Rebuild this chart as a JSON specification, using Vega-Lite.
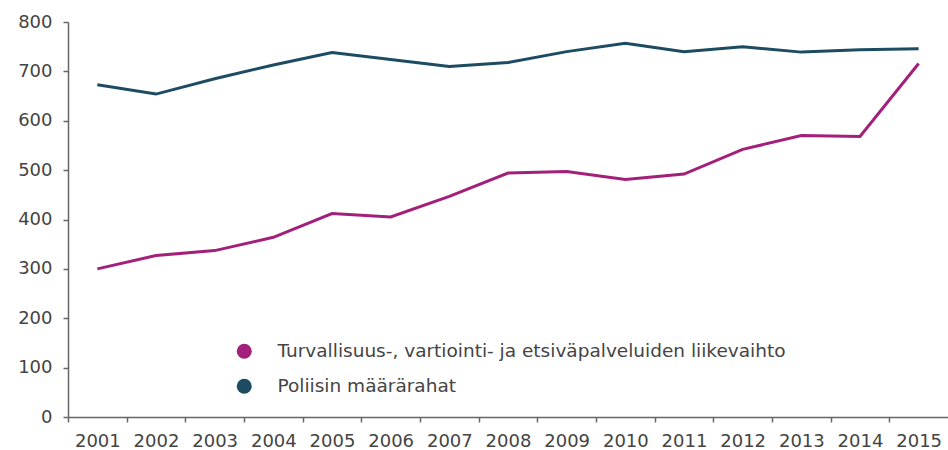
{
  "$schema": "https://vega.github.io/schema/vega-lite/v6.json",
  "autosize": {"type": "none"},
  "padding": {"left": 68, "top": 22, "right": 0, "bottom": 33},
  "width": 880,
  "height": 395,
  "background": "white",
  "data": {
    "values": [
      {"year": "2001", "series": "Turvallisuus-, vartiointi- ja etsiväpalveluiden liikevaihto", "value": 300},
      {"year": "2002", "series": "Turvallisuus-, vartiointi- ja etsiväpalveluiden liikevaihto", "value": 327},
      {"year": "2003", "series": "Turvallisuus-, vartiointi- ja etsiväpalveluiden liikevaihto", "value": 337},
      {"year": "2004", "series": "Turvallisuus-, vartiointi- ja etsiväpalveluiden liikevaihto", "value": 364},
      {"year": "2005", "series": "Turvallisuus-, vartiointi- ja etsiväpalveluiden liikevaihto", "value": 412},
      {"year": "2006", "series": "Turvallisuus-, vartiointi- ja etsiväpalveluiden liikevaihto", "value": 405},
      {"year": "2007", "series": "Turvallisuus-, vartiointi- ja etsiväpalveluiden liikevaihto", "value": 447},
      {"year": "2008", "series": "Turvallisuus-, vartiointi- ja etsiväpalveluiden liikevaihto", "value": 494},
      {"year": "2009", "series": "Turvallisuus-, vartiointi- ja etsiväpalveluiden liikevaihto", "value": 497},
      {"year": "2010", "series": "Turvallisuus-, vartiointi- ja etsiväpalveluiden liikevaihto", "value": 481},
      {"year": "2011", "series": "Turvallisuus-, vartiointi- ja etsiväpalveluiden liikevaihto", "value": 492},
      {"year": "2012", "series": "Turvallisuus-, vartiointi- ja etsiväpalveluiden liikevaihto", "value": 542},
      {"year": "2013", "series": "Turvallisuus-, vartiointi- ja etsiväpalveluiden liikevaihto", "value": 570},
      {"year": "2014", "series": "Turvallisuus-, vartiointi- ja etsiväpalveluiden liikevaihto", "value": 568},
      {"year": "2015", "series": "Turvallisuus-, vartiointi- ja etsiväpalveluiden liikevaihto", "value": 716},
      {"year": "2001", "series": "Poliisin määrärahat", "value": 673},
      {"year": "2002", "series": "Poliisin määrärahat", "value": 654},
      {"year": "2003", "series": "Poliisin määrärahat", "value": 685},
      {"year": "2004", "series": "Poliisin määrärahat", "value": 713},
      {"year": "2005", "series": "Poliisin määrärahat", "value": 738},
      {"year": "2006", "series": "Poliisin määrärahat", "value": 724},
      {"year": "2007", "series": "Poliisin määrärahat", "value": 710},
      {"year": "2008", "series": "Poliisin määrärahat", "value": 718},
      {"year": "2009", "series": "Poliisin määrärahat", "value": 740},
      {"year": "2010", "series": "Poliisin määrärahat", "value": 757},
      {"year": "2011", "series": "Poliisin määrärahat", "value": 740},
      {"year": "2012", "series": "Poliisin määrärahat", "value": 750},
      {"year": "2013", "series": "Poliisin määrärahat", "value": 739},
      {"year": "2014", "series": "Poliisin määrärahat", "value": 744},
      {"year": "2015", "series": "Poliisin määrärahat", "value": 746}
    ]
  },
  "mark": {"type": "line", "strokeWidth": 3},
  "encoding": {
    "x": {
      "field": "year",
      "type": "ordinal",
      "scale": {"type": "band", "paddingInner": 0, "paddingOuter": 0},
      "axis": {
        "title": null,
        "labelAngle": 0,
        "tickOffset": -29.33,
        "labelOffset": 29.33,
        "tickSize": 5,
        "labelPadding": 10
      }
    },
    "y": {
      "field": "value",
      "type": "quantitative",
      "scale": {"domain": [0, 800], "nice": false},
      "axis": {
        "title": null,
        "values": [0, 100, 200, 300, 400, 500, 600, 700, 800],
        "tickSize": 5,
        "labelPadding": 11,
        "grid": false
      }
    },
    "color": {
      "field": "series",
      "type": "nominal",
      "scale": {
        "domain": ["Turvallisuus-, vartiointi- ja etsiväpalveluiden liikevaihto", "Poliisin määrärahat"],
        "range": ["#a3207a", "#1d4b61"]
      },
      "legend": {
        "title": null,
        "orient": "none",
        "legendX": 167,
        "legendY": 320,
        "symbolType": "circle",
        "symbolSize": 225,
        "symbolStrokeWidth": 0,
        "labelFontSize": 18.5,
        "labelFont": "DejaVu Sans",
        "labelColor": "#444",
        "labelOffset": 24,
        "labelLimit": 800,
        "rowPadding": 16,
        "encode": {
          "symbols": {
            "update": {
              "fill": {"scale": "color", "field": "value"},
              "fillOpacity": {"value": 1}
            }
          }
        }
      }
    }
  },
  "config": {
    "view": {"stroke": null},
    "axis": {
      "labelFont": "DejaVu Sans",
      "labelFontSize": 18,
      "labelColor": "#444",
      "domainColor": "#666",
      "domainWidth": 1.5,
      "tickColor": "#666",
      "tickWidth": 1.5
    }
  }
}
